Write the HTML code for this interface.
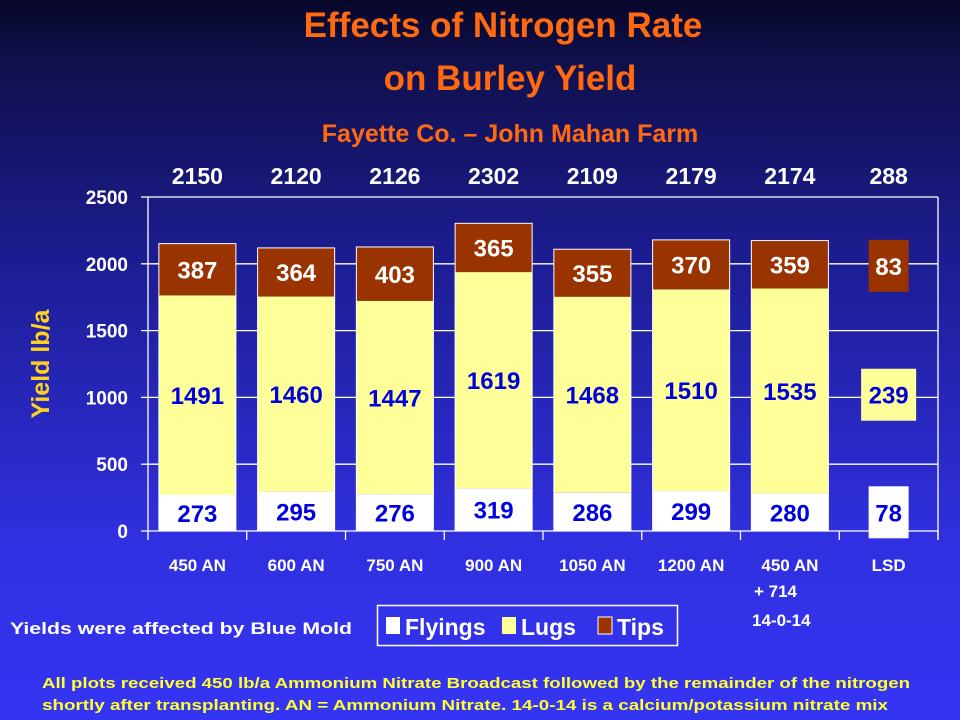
<!DOCTYPE html>
<html><head><meta charset="utf-8"><style>
html,body{margin:0;padding:0;width:960px;height:720px;overflow:hidden}
svg{display:block;font-family:"Liberation Sans",Arial,sans-serif;font-weight:bold}
</style></head><body>
<svg id="chart" width="960" height="720" viewBox="0 0 960 720">
<defs><linearGradient id="bg" x1="0" y1="0" x2="0" y2="1">
<stop offset="0" stop-color="#06062a"/><stop offset="0.08" stop-color="#10104a"/><stop offset="0.35" stop-color="#1c1c90"/><stop offset="0.75" stop-color="#3030e0"/><stop offset="1" stop-color="#3434f4"/></linearGradient></defs>
<rect width="960" height="720" fill="url(#bg)"/>
<text x="503" y="37" text-anchor="middle" font-size="35" fill="#ff6a10">Effects of Nitrogen Rate</text>
<text x="510" y="90" text-anchor="middle" font-size="35" fill="#ff6a10">on Burley Yield</text>
<text x="510" y="142" text-anchor="middle" font-size="25" fill="#ff6a10">Fayette Co. – John Mahan Farm</text>
<g id="grid"></g><g id="bars"></g><g id="axes"></g>
<text transform="translate(49,364) rotate(-90)" text-anchor="middle" font-size="25" fill="#ffd21e">Yield lb/a</text>
<text x="10" y="634" font-size="17" fill="#fff" textLength="342" lengthAdjust="spacingAndGlyphs">Yields were affected by Blue Mold</text>
<g>
<rect x="377.5" y="605.5" width="300" height="40" fill="none" stroke="#fff" stroke-width="1.5"/>
<rect x="386" y="617" width="14" height="17" fill="#fff"/>
<text x="405" y="635" font-size="23" fill="#fff">Flyings</text>
<rect x="502" y="617" width="14" height="17" fill="#ffff99"/>
<text x="521" y="635" font-size="23" fill="#fff">Lugs</text>
<rect x="598" y="617" width="14" height="17" fill="#993300" stroke="#fff"/>
<text x="617" y="635" font-size="23" fill="#fff">Tips</text>
</g>
<text x="754" y="597" font-size="17" fill="#fff">+ 714</text>
<text x="752" y="626" font-size="17" fill="#fff">14-0-14</text>
<text x="42" y="688" font-size="15" fill="#ffff33" textLength="868" lengthAdjust="spacingAndGlyphs">All plots received 450 lb/a Ammonium Nitrate Broadcast followed by the remainder of the nitrogen</text>
<text x="42" y="710" font-size="15" fill="#ffff33" textLength="846" lengthAdjust="spacingAndGlyphs">shortly after transplanting.  AN = Ammonium Nitrate. 14-0-14 is a calcium/potassium nitrate mix</text>
</svg>
<script>
const categories = ["450 AN","600 AN","750 AN","900 AN","1050 AN","1200 AN","450 AN","LSD"];
const flyings = [273,295,276,319,286,299,280];
const lugs = [1491,1460,1447,1619,1468,1510,1535];
const tips = [387,364,403,365,355,370,359];
const totals = ["2150","2120","2126","2302","2109","2179","2174","288"];
const lsdValues = [78,239,83];
const lsdLevels = [140,1020,1985];
const yTicks = [0,500,1000,1500,2000,2500];

const NS="http://www.w3.org/2000/svg";
const X0=148,X1=938,Y0=531,Y1=197,YMAX=2500;
const band=(X1-X0)/categories.length;
const y=v=>Y0-(v/YMAX)*(Y0-Y1);
const xc=i=>X0+band*(i+0.5);
function mk(tag,attrs,parent,txt){const e=document.createElementNS(NS,tag);for(const k in attrs)e.setAttribute(k,attrs[k]);if(txt!==undefined)e.textContent=txt;parent.appendChild(e);return e;}
const grid=document.getElementById('grid'),bars=document.getElementById('bars'),axes=document.getElementById('axes');
yTicks.forEach(t=>{
  if(t>0){const l=mk('line',{x1:X0,x2:X1,y1:y(t),y2:y(t),stroke:'#fff','stroke-width':1.3},grid);
  
  }
  const tk=mk('line',{x1:X0-7,x2:X0,y1:y(t),y2:y(t),stroke:'#fff','stroke-width':1.3},axes);
  
  
  const lb=mk('text',{x:128,y:y(t)+7,'text-anchor':'end','font-size':19,fill:'#fff'},axes,String(t));
  
  
});
const rb=mk('line',{x1:X1,x2:X1,y1:Y1,y2:Y0+8,stroke:'#fff','stroke-width':1.3},axes);


const ya=mk('line',{x1:X0,x2:X0,y1:Y1,y2:Y0,stroke:'#fff','stroke-width':1.3},axes);


const xa=mk('line',{x1:X0,x2:X1,y1:Y0,y2:Y0,stroke:'#fff','stroke-width':1.3},axes);


for(let i=0;i<=categories.length;i++){
  const t=mk('line',{x1:X0+band*i,x2:X0+band*i,y1:Y0,y2:Y0+9,stroke:'#fff','stroke-width':1.3},axes);
  
  
}
categories.forEach((c,i)=>{
  const t=mk('text',{x:xc(i),y:571,'text-anchor':'middle','font-size':17,fill:'#fff'},axes,c);
  
  
  const tt=mk('text',{x:xc(i),y:184,'text-anchor':'middle','font-size':23,fill:'#fff'},axes,totals[i]);
  
  
});
const bw=band*0.78;
flyings.forEach((f,i)=>{
  const segs=[[0,f,'#ffffff','#0000dd','flyings'],[f,f+lugs[i],'#ffff99','#0000dd','lugs'],[f+lugs[i],f+lugs[i]+tips[i],'#993300','#ffffff','tips']];
  const vals=[f,lugs[i],tips[i]];
  segs.forEach((s,k)=>{
    const r=mk('rect',{x:xc(i)-bw/2,y:y(s[1]),width:bw,height:y(s[0])-y(s[1]),fill:s[2]},bars);
    
    
    const t=mk('text',{x:xc(i),y:(y(s[0])+y(s[1]))/2+9,'text-anchor':'middle','font-size':24,fill:s[3]},bars,String(vals[k]));
    
    
  });
  const o=mk('rect',{x:xc(i)-bw/2,y:y(f+lugs[i]+tips[i]),width:bw,height:y(0)-y(f+lugs[i]+tips[i]),fill:'none',stroke:'#fff','stroke-width':1},bars);
  
  
});
const li=categories.length-1;
const lsdStyle=[['#ffffff','#0000dd',40,52,'flyings'],['#ffff99','#0000dd',55,52,'lugs'],['#993300','#ffffff',40,52,'tips']];
lsdValues.forEach((v,k)=>{
  const st=lsdStyle[k],cy=y(lsdLevels[k]);
  const r=mk('rect',{x:xc(li)-st[2]/2,y:cy-st[3]/2,width:st[2],height:st[3],fill:st[0]},bars);
  
  
  const t=mk('text',{x:xc(li),y:cy+9,'text-anchor':'middle','font-size':24,fill:st[1]},bars,String(v));
  
  
});
</script>
</body></html>
